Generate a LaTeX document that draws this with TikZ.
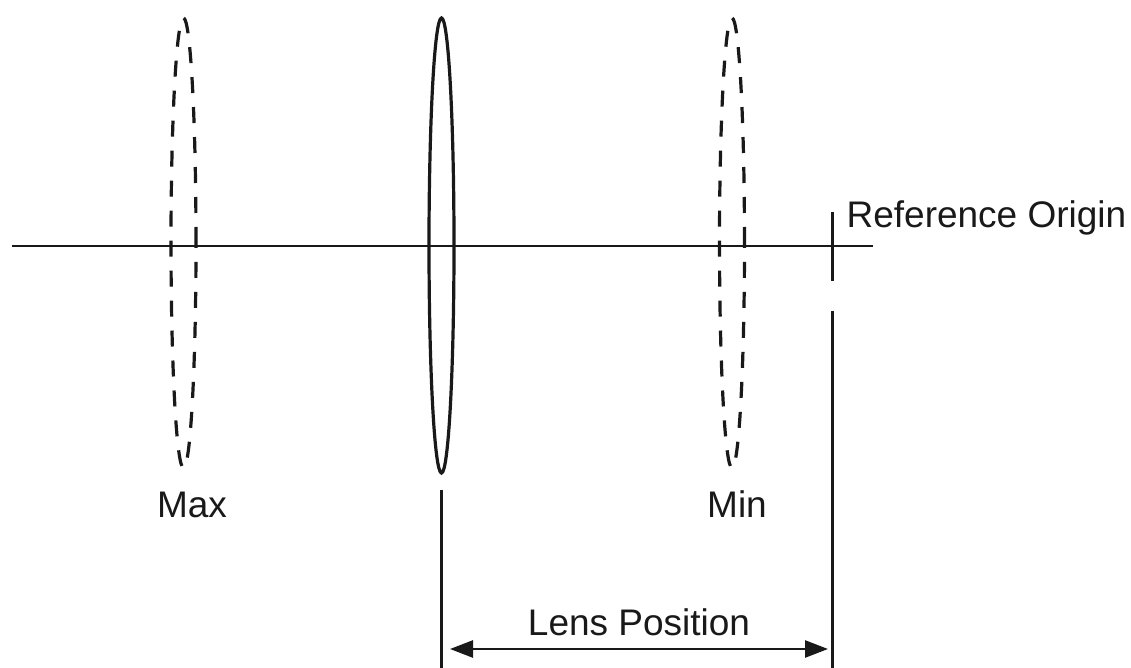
\documentclass[tikz,border=0pt]{standalone}
\usepackage{fontspec}
\setmainfont{Liberation Sans}
\usetikzlibrary{shapes.geometric,arrows.meta}
\definecolor{myink}{RGB}{25,25,25}

\begin{document}
\begin{tikzpicture}[x=0.5pt, y=-0.5pt,
    line width=1.6pt, draw=myink,
    lens/.style={draw, ellipse, inner sep=0pt, minimum width=12.5pt, minimum height=227.5pt},
    ghostlens/.style={lens, minimum height=225pt, dash pattern=on 8pt off 7pt},
    label/.style={font=\fontsize{18.5}{20}\selectfont, text=myink, inner sep=0pt},
]
    \useasboundingbox (0,0) rectangle (1131,668);

    % Lens outlines
    \node[ghostlens] (lensmax) at (183.5,243) {};
    \node[lens]      (lensnow) at (441.5,245.5) {};
    \node[ghostlens] (lensmin) at (732,243) {};

    % Optical axis
    \coordinate (axisleft)  at (12,246);
    \coordinate (axisright) at (873,246);
    \draw[line width=1.3pt] (axisleft) -- (axisright);

    % Reference origin tick and the drop lines
    \coordinate (origintop) at (832.5,212);
    \coordinate (originend) at (832.5,281);
    \coordinate (dropright) at (832.5,311);
    \coordinate (dropleft)  at (441.5,490);
    \coordinate (baseright) at (832.5,668);
    \coordinate (baseleft)  at (441.5,668);
    \draw[line width=1.3pt] (origintop) -- (originend);
    \draw[line width=1.3pt] (dropright) -- (baseright);
    \draw (dropleft) -- (baseleft);

    % Position arrow
    \coordinate (arrowleft)  at (450,649);
    \coordinate (arrowright) at (828,649);
    \draw[{Triangle[length=11.5pt,width=8.5pt]}-{Triangle[length=11.5pt,width=8.5pt]}, line width=1.3pt] (arrowleft) -- (arrowright);

    % Labels
    \node[label, anchor=base]      (maxlabel) at (192,517) {Max};
    \node[label, anchor=base]      (minlabel) at (737,517) {Min};
    \node[label, anchor=base]      (poslabel) at (639,635) {Lens Position};
    \node[label, anchor=base west] (reflabel) at (845,228) {Reference Origin};
\end{tikzpicture}
\end{document}
